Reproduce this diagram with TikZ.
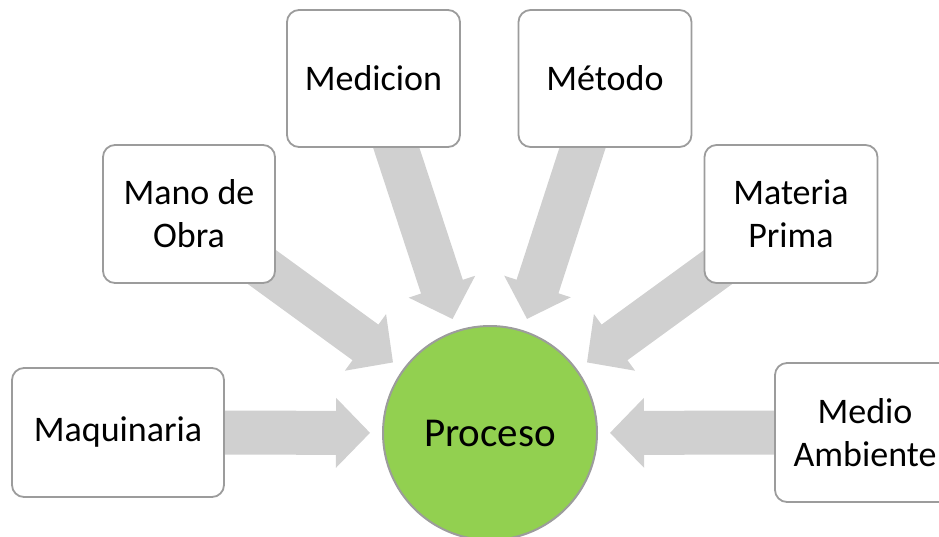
\documentclass[tikz,border=0pt]{standalone}
\usepackage{fontspec}
\setmainfont{Carlito}
\usetikzlibrary{calc}
\definecolor{arrowgray}{HTML}{D0D0D0}
\definecolor{bordergray}{HTML}{9C9C9C}
\definecolor{procgreen}{HTML}{92D050}
\tikzset{
  boxnode/.style={draw=bordergray, line width=1.8pt, fill=white, rounded corners=12pt,
    inner sep=0pt, align=center, font=\fontsize{36}{43}\selectfont},
  procnode/.style={circle, draw=bordergray, line width=2pt, fill=procgreen,
    minimum size=214pt, inner sep=0pt, font=\fontsize{41}{48}\selectfont},
  arrowfill/.style={fill=arrowgray}
}
\newcommand\radarrow[1]{%
  \coordinate (tip-#1) at ($(proc.center)!120pt!(#1.center)$);
  \coordinate (hb-#1) at ($(proc.center)!154pt!(#1.center)$);
  \fill[arrowfill] (tip-#1) -- ($(hb-#1)!35pt!90:(tip-#1)$) -- ($(hb-#1)!22pt!90:(tip-#1)$)
    -- ($(#1.center)!22pt!90:(proc.center)$) -- ($(#1.center)!22pt!-90:(proc.center)$)
    -- ($(hb-#1)!22pt!-90:(tip-#1)$) -- ($(hb-#1)!35pt!-90:(tip-#1)$) -- cycle;
}
\begin{document}
\begin{tikzpicture}[x=1pt,y=-1pt]
\useasboundingbox (0,0) rectangle (939,536);
% placement coordinates for centers
\coordinate (proc) at (490,433);
\coordinate (maq) at (118,432.5);
\coordinate (mano) at (189,214);
\coordinate (med) at (373.5,78.5);
\coordinate (met) at (605,78.5);
\coordinate (mat) at (791,214);
\coordinate (amb) at (865,432.5);
% arrows
\radarrow{maq}
\radarrow{mano}
\radarrow{med}
\radarrow{met}
\radarrow{mat}
\radarrow{amb}
% boxes
\node[boxnode, minimum width=212pt, minimum height=129pt] (maqbox) at (maq) {Maquinaria};
\node[boxnode, minimum width=172pt, minimum height=138pt] (manobox) at (mano) {Mano de\\Obra};
\node[boxnode, minimum width=173pt, minimum height=137pt] (medbox) at (med) {Medicion};
\node[boxnode, minimum width=173pt, minimum height=137pt] (metbox) at (met) {Método};
\node[boxnode, minimum width=173pt, minimum height=138pt] (matbox) at (mat) {Materia\\Prima};
\node[boxnode, minimum width=180pt, minimum height=139pt] (ambbox) at (amb) {Medio\\Ambiente};
% center
\node[procnode] (procnode) at (proc) {Proceso};
\end{tikzpicture}
\end{document}
